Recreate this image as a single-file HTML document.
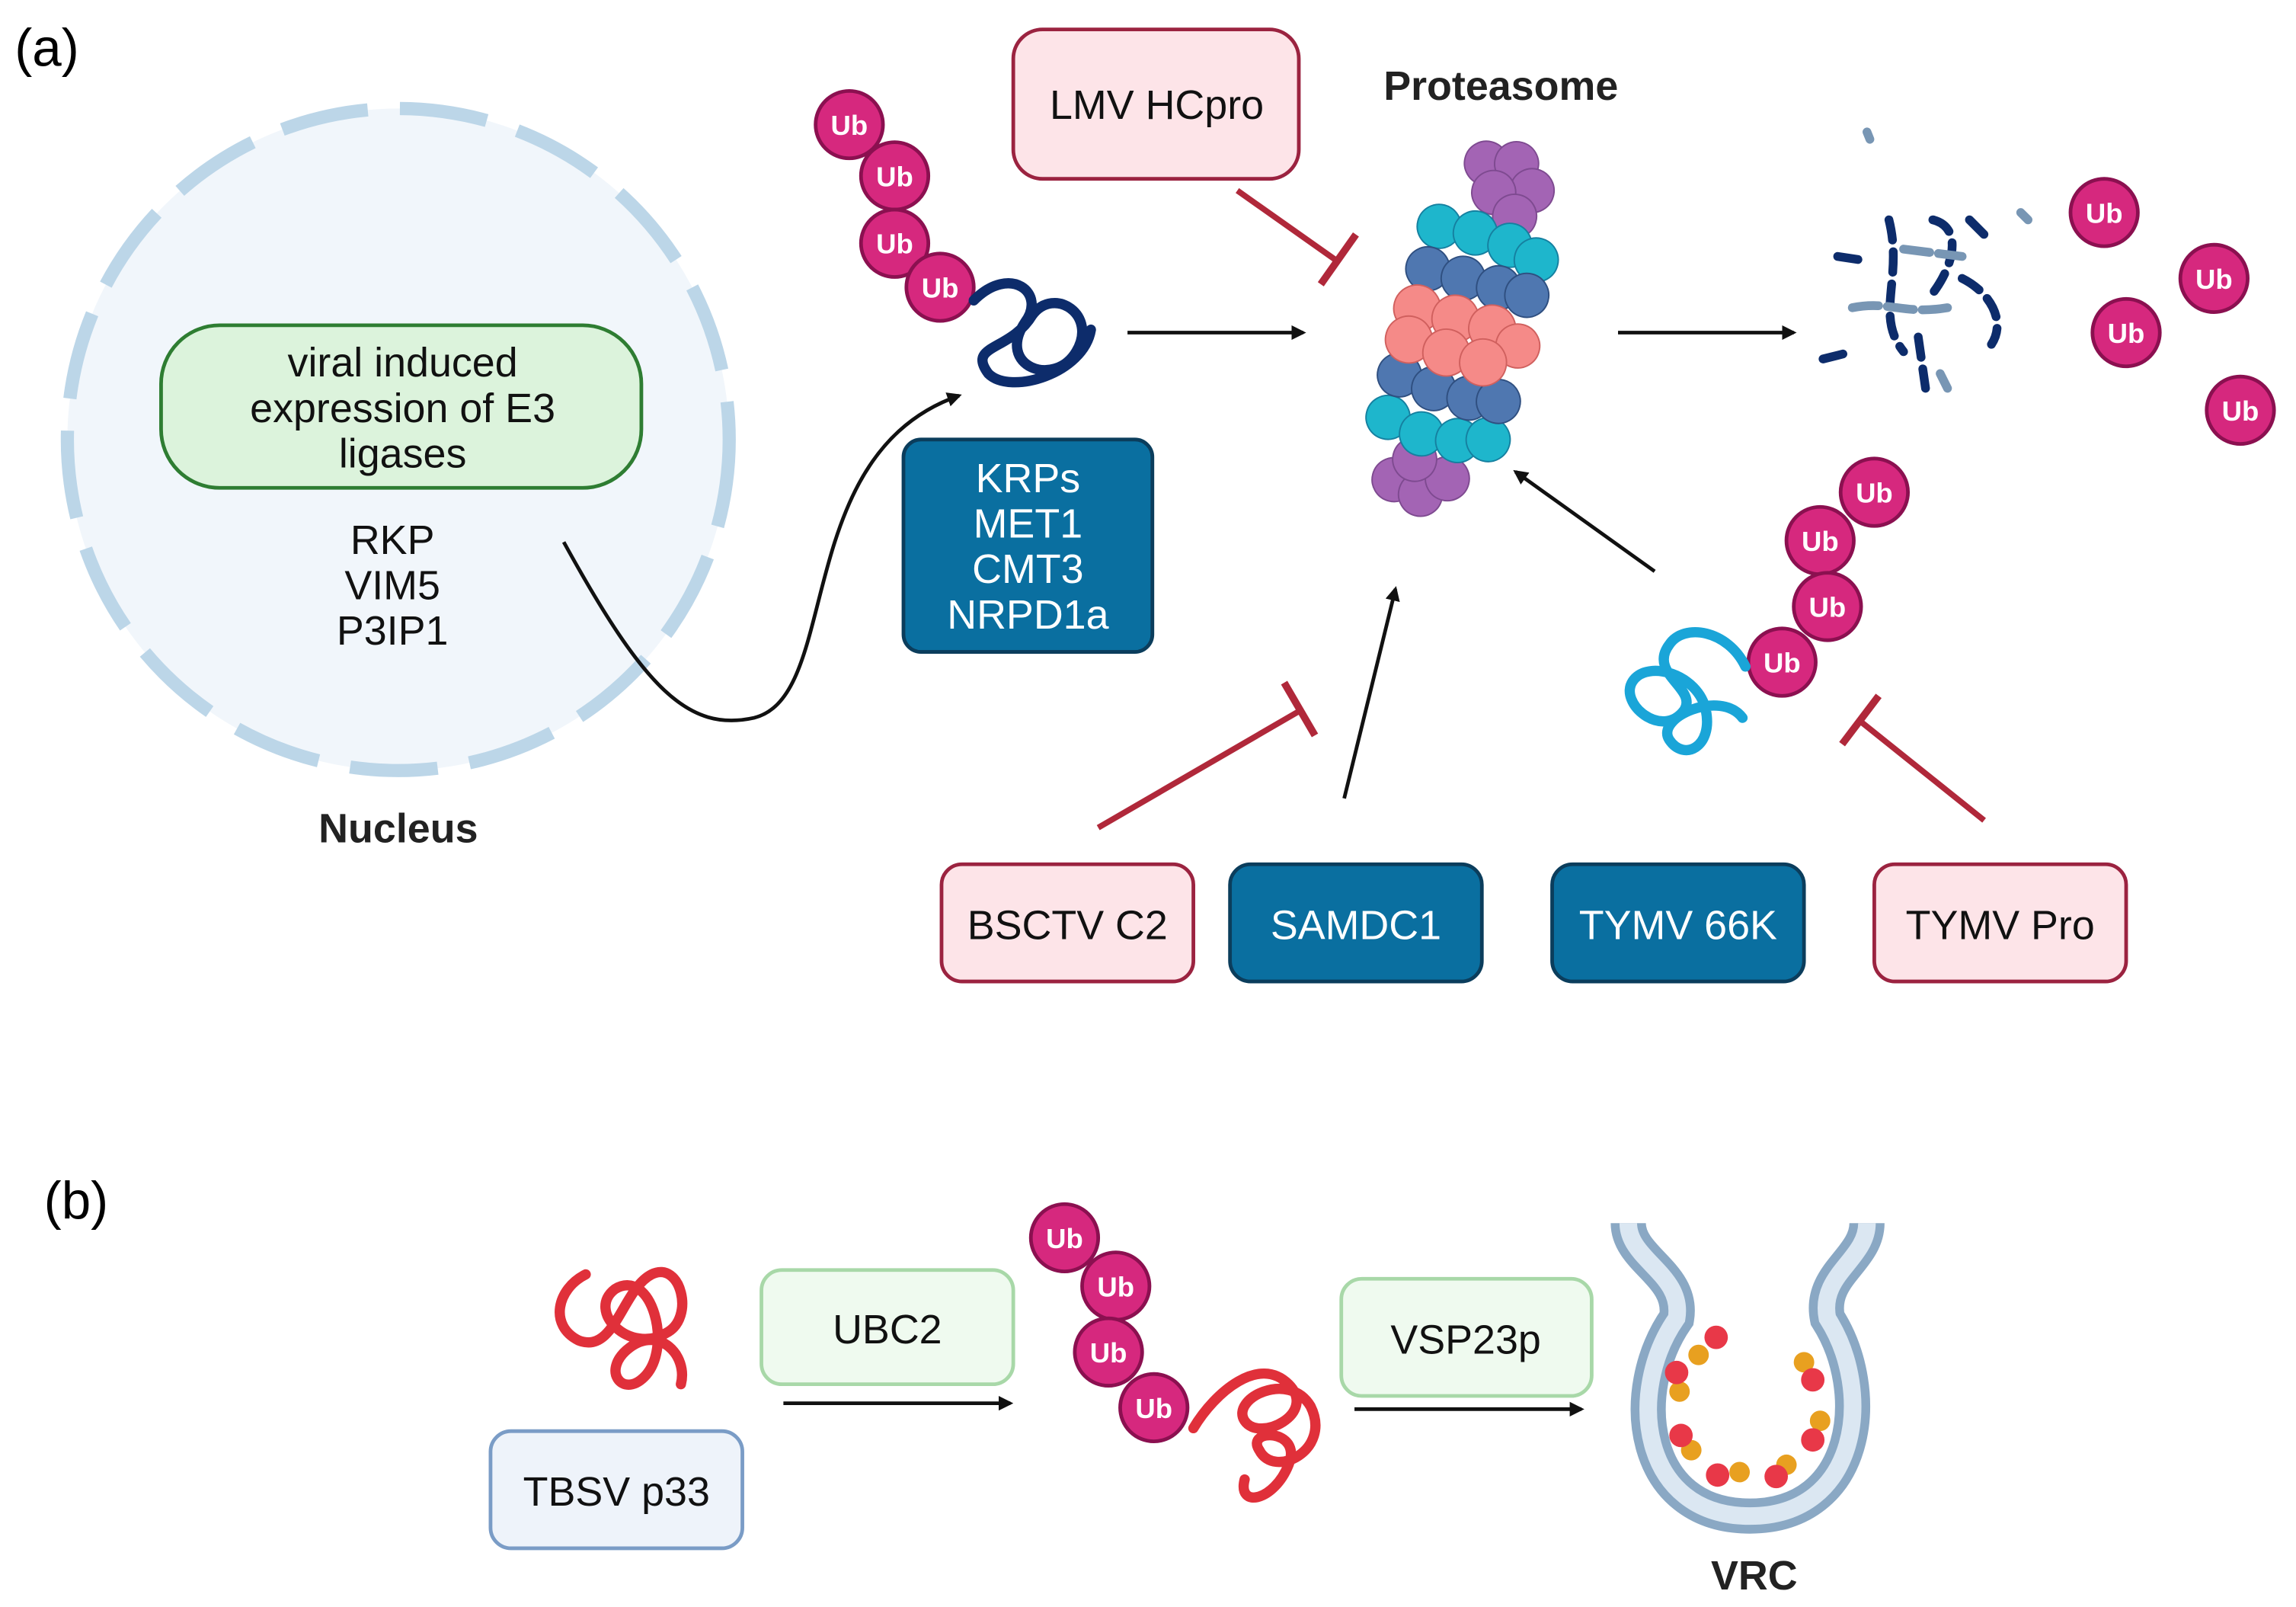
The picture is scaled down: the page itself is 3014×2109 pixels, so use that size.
<!DOCTYPE html>
<html><head><meta charset="utf-8"><style>html,body{margin:0;padding:0;background:#fff}svg{display:block}</style></head>
<body>
<svg width="3014" height="2109" viewBox="0 0 1568 1097" xmlns="http://www.w3.org/2000/svg" font-family="Liberation Sans, sans-serif">
<defs>
<marker id="ar" markerWidth="10" markerHeight="10" refX="8" refY="5" orient="auto" markerUnits="userSpaceOnUse"><path d="M0,0 L10,5 L0,10 Z" fill="#111"/></marker>
<g id="ub"><circle r="23" fill="#d6287e" stroke="#8b1050" stroke-width="2.5"/><text y="7" text-anchor="middle" font-size="19" font-weight="bold" fill="#fff">Ub</text></g>
</defs>
<rect width="1568" height="1097" fill="#fff"/>
<text x="10" y="45" font-size="36">(a)</text>
<circle cx="272" cy="300" r="226" fill="#f1f6fb" stroke="#bcd6e8" stroke-width="9" stroke-dasharray="60 22"/>
<rect x="110" y="222" width="328" height="111" rx="40" fill="#dcf3dc" stroke="#2e7d32" stroke-width="2.5"/>
<text font-size="28" text-anchor="middle" fill="#111"><tspan x="275" y="257">viral induced</tspan><tspan x="275" y="288">expression of E3</tspan><tspan x="275" y="319">ligases</tspan></text>
<text font-size="28" text-anchor="middle" fill="#111"><tspan x="268" y="378">RKP</tspan><tspan x="268" y="409">VIM5</tspan><tspan x="268" y="440">P3IP1</tspan></text>
<text x="272" y="575" font-size="28" font-weight="bold" text-anchor="middle" fill="#222">Nucleus</text>
<path d="M385,370 C440,470 470,500 515,490 C575,475 540,310 655,270" fill="none" stroke="#111" stroke-width="2.5" marker-end="url(#ar)"/>
<use href="#ub" x="580" y="85"/><use href="#ub" x="611" y="120"/><use href="#ub" x="611" y="166"/><use href="#ub" x="642" y="196"/>
<path d="M665,205 C690,180 715,200 700,220 C680,250 720,265 735,240 C750,215 720,195 705,215 C690,240 660,235 675,255 C690,270 740,255 745,225" fill="none" stroke="#0d2c6b" stroke-width="7" stroke-linecap="round"/>
<line x1="770" y1="227" x2="890" y2="227" stroke="#111" stroke-width="2.5" marker-end="url(#ar)"/>
<rect x="617" y="300" width="170" height="145" rx="12" fill="#0a6fa0" stroke="#0b3d5c" stroke-width="2.5"/>
<text font-size="28" text-anchor="middle" fill="#fff"><tspan x="702" y="336">KRPs</tspan><tspan x="702" y="367">MET1</tspan><tspan x="702" y="398">CMT3</tspan><tspan x="702" y="429">NRPD1a</tspan></text>
<rect x="692" y="20" width="195" height="102" rx="20" fill="#fde4e8" stroke="#9b2340" stroke-width="2.5"/>
<text x="790" y="81" font-size="28" text-anchor="middle" fill="#111">LMV HCpro</text>
<line x1="845" y1="130" x2="913" y2="178" stroke="#b0283a" stroke-width="4"/>
<line x1="926" y1="160" x2="902" y2="194" stroke="#b0283a" stroke-width="5"/>
<text x="1025" y="68" font-size="28" font-weight="bold" text-anchor="middle" fill="#222">Proteasome</text>
<g transform="rotate(15 995 225)">
<g fill="#a364b4" stroke="#7e4a90" stroke-width="1"><circle cx="985" cy="110" r="15"/><circle cx="1005" cy="105" r="15"/><circle cx="1020" cy="120" r="15"/><circle cx="995" cy="128" r="15"/><circle cx="1013" cy="140" r="15"/><circle cx="980" cy="335" r="15"/><circle cx="1000" cy="340" r="15"/><circle cx="1015" cy="325" r="15"/><circle cx="990" cy="318" r="15"/></g>
<g fill="#1eb6cc" stroke="#1580a0" stroke-width="1"><circle cx="965" cy="160" r="15"/><circle cx="990" cy="158" r="15"/><circle cx="1015" cy="160" r="15"/><circle cx="1035" cy="165" r="15"/><circle cx="965" cy="295" r="15"/><circle cx="990" cy="300" r="15"/><circle cx="1015" cy="298" r="15"/><circle cx="1035" cy="292" r="15"/></g>
<g fill="#4f77b0" stroke="#2f4f80" stroke-width="1"><circle cx="965" cy="190" r="15"/><circle cx="990" cy="190" r="15"/><circle cx="1015" cy="190" r="15"/><circle cx="1035" cy="190" r="15"/><circle cx="965" cy="265" r="15"/><circle cx="990" cy="268" r="15"/><circle cx="1015" cy="268" r="15"/><circle cx="1035" cy="265" r="15"/></g>
<g fill="#f58a88" stroke="#d0605e" stroke-width="1"><circle cx="965" cy="218" r="16"/><circle cx="992" cy="218" r="16"/><circle cx="1018" cy="218" r="16"/><circle cx="1038" cy="225" r="15"/><circle cx="965" cy="240" r="16"/><circle cx="992" cy="242" r="16"/><circle cx="1018" cy="242" r="16"/></g>
</g>
<line x1="1105" y1="227" x2="1225" y2="227" stroke="#111" stroke-width="2.5" marker-end="url(#ar)"/>
<g fill="none" stroke-width="6" stroke-linecap="round">
<path d="M1255,175 L1275,178 M1290,150 C1300,190 1280,215 1300,240 M1320,150 C1340,155 1335,180 1320,200 M1245,245 L1265,240 M1340,190 C1360,200 1370,220 1360,235 M1310,230 L1315,265 M1345,150 L1355,160" stroke="#0d2c6b" stroke-dasharray="14 8"/>
<path d="M1265,210 C1290,205 1300,215 1330,210 M1300,170 L1340,175 M1325,255 L1330,265 M1380,145 L1385,150 M1275,90 L1277,95" stroke="#7896b4" stroke-dasharray="18 6"/>
</g>
<use href="#ub" x="1437" y="145"/><use href="#ub" x="1512" y="190"/><use href="#ub" x="1452" y="227"/><use href="#ub" x="1530" y="280"/>
<line x1="1130" y1="390" x2="1035" y2="322" stroke="#111" stroke-width="2.5" marker-end="url(#ar)"/>
<line x1="918" y1="545" x2="953" y2="402" stroke="#111" stroke-width="2.5" marker-end="url(#ar)"/>
<line x1="750" y1="565" x2="888" y2="485" stroke="#b0283a" stroke-width="4"/>
<line x1="877" y1="466" x2="898" y2="502" stroke="#b0283a" stroke-width="5"/>
<line x1="1355" y1="560" x2="1270" y2="492" stroke="#b0283a" stroke-width="4"/>
<line x1="1283" y1="475" x2="1258" y2="508" stroke="#b0283a" stroke-width="5"/>
<use href="#ub" x="1280" y="336"/><use href="#ub" x="1243" y="369"/><use href="#ub" x="1248" y="414"/><use href="#ub" x="1217" y="452"/>
<path d="M1192,455 C1180,430 1150,425 1140,440 C1125,460 1160,470 1150,485 C1135,505 1105,480 1115,465 C1125,450 1160,460 1165,485 C1170,510 1150,520 1140,505 C1130,490 1175,470 1190,490" fill="none" stroke="#1aa5d8" stroke-width="7" stroke-linecap="round"/>
<rect x="643" y="590" width="172" height="80" rx="14" fill="#fde4e8" stroke="#9b2340" stroke-width="2.5"/>
<text x="729" y="641" font-size="28" text-anchor="middle" fill="#111">BSCTV C2</text>
<rect x="840" y="590" width="172" height="80" rx="14" fill="#0a6fa0" stroke="#0b3d5c" stroke-width="2.5"/>
<text x="926" y="641" font-size="28" text-anchor="middle" fill="#fff">SAMDC1</text>
<rect x="1060" y="590" width="172" height="80" rx="14" fill="#0a6fa0" stroke="#0b3d5c" stroke-width="2.5"/>
<text x="1146" y="641" font-size="28" text-anchor="middle" fill="#fff">TYMV 66K</text>
<rect x="1280" y="590" width="172" height="80" rx="14" fill="#fde4e8" stroke="#9b2340" stroke-width="2.5"/>
<text x="1366" y="641" font-size="28" text-anchor="middle" fill="#111">TYMV Pro</text>
<text x="30" y="832" font-size="36">(b)</text>
<path d="M400,870 C380,880 375,905 395,915 C420,925 425,880 445,870 C465,860 475,900 455,910 C430,925 400,895 420,880 C445,865 460,920 440,940 C425,955 410,935 430,920 C450,905 470,925 465,945" fill="none" stroke="#e0303a" stroke-width="7" stroke-linecap="round"/>
<rect x="335" y="977" width="172" height="80" rx="14" fill="#eef3fa" stroke="#7a9cc6" stroke-width="2.5"/>
<text x="421" y="1028" font-size="28" text-anchor="middle" fill="#111">TBSV p33</text>
<rect x="520" y="867" width="172" height="78" rx="14" fill="#effaef" stroke="#a8d8a8" stroke-width="2.5"/>
<text x="606" y="917" font-size="28" text-anchor="middle" fill="#111">UBC2</text>
<line x1="535" y1="958" x2="690" y2="958" stroke="#111" stroke-width="2.5" marker-end="url(#ar)"/>
<use href="#ub" x="727" y="845"/><use href="#ub" x="762" y="878"/><use href="#ub" x="757" y="923"/><use href="#ub" x="788" y="961"/>
<path d="M815,975 C830,950 860,925 880,945 C900,965 860,985 850,970 C840,955 880,935 895,960 C910,990 870,1010 860,990 C850,975 890,975 880,1000 C870,1025 845,1030 850,1010" fill="none" stroke="#e0303a" stroke-width="7" stroke-linecap="round"/>
<rect x="916" y="873" width="171" height="80" rx="14" fill="#effaef" stroke="#a8d8a8" stroke-width="2.5"/>
<text x="1001" y="924" font-size="28" text-anchor="middle" fill="#111">VSP23p</text>
<line x1="925" y1="962" x2="1080" y2="962" stroke="#111" stroke-width="2.5" marker-end="url(#ar)"/>
<path d="M1112,835 C1112,860 1150,870 1145,900 C1110,950 1120,1035 1195,1035 C1270,1035 1280,950 1248,900 C1242,870 1275,860 1275,835" fill="none" stroke="#8aa8c4" stroke-width="24"/>
<path d="M1112,835 C1112,860 1150,870 1145,900 C1110,950 1120,1035 1195,1035 C1270,1035 1280,950 1248,900 C1242,870 1275,860 1275,835" fill="none" stroke="#dbe7f2" stroke-width="12"/>
<g fill="#e8a020"><circle cx="1147" cy="950" r="7"/><circle cx="1160" cy="925" r="7"/><circle cx="1232" cy="930" r="7"/><circle cx="1243" cy="970" r="7"/><circle cx="1155" cy="990" r="7"/><circle cx="1188" cy="1005" r="7"/><circle cx="1220" cy="1000" r="7"/></g>
<g fill="#e83848"><circle cx="1172" cy="913" r="8"/><circle cx="1145" cy="937" r="8"/><circle cx="1238" cy="942" r="8"/><circle cx="1238" cy="983" r="8"/><circle cx="1148" cy="980" r="8"/><circle cx="1173" cy="1007" r="8"/><circle cx="1213" cy="1008" r="8"/></g>
<text x="1198" y="1085" font-size="28" font-weight="bold" text-anchor="middle" fill="#222">VRC</text>
</svg>
</body></html>
